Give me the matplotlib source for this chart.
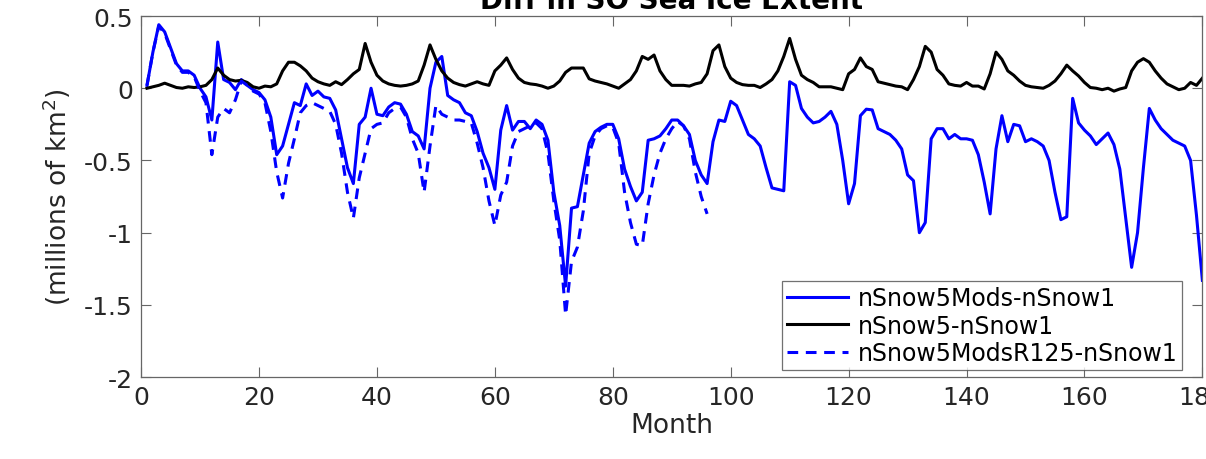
import numpy as np
import matplotlib
matplotlib.use("Agg")
import matplotlib.pyplot as plt
from matplotlib.ticker import FormatStrFormatter

# ---- data (million km^2 differences, by month) ----
months = np.arange(1, 181)
months_r125 = np.arange(1, 97)

mods_minus_1 = [
    0.02, 0.25, 0.44, 0.39, 0.28, 0.17, 0.12, 0.12, 0.09, 0.0,
    -0.06, -0.22, 0.32, 0.06, 0.04, -0.01, 0.06, 0.02, -0.01, -0.03,
    -0.08, -0.2, -0.46, -0.40, -0.25, -0.10, -0.12, 0.03, -0.05, -0.02,
    -0.06, -0.07, -0.15, -0.35, -0.55, -0.66, -0.25, -0.2, 0.0, -0.18,
    -0.19, -0.13, -0.1, -0.11, -0.18, -0.3, -0.33, -0.42, 0.0, 0.18,
    0.22, -0.05, -0.08, -0.1, -0.17, -0.19, -0.3, -0.45, -0.55, -0.7,
    -0.29, -0.12, -0.29, -0.23, -0.23, -0.28, -0.22, -0.25, -0.36, -0.72,
    -0.95, -1.37, -0.83, -0.82, -0.6, -0.38, -0.3, -0.27, -0.25, -0.25,
    -0.35, -0.56, -0.68, -0.78, -0.72, -0.36, -0.35, -0.33, -0.28, -0.22,
    -0.22, -0.26, -0.32, -0.5, -0.6, -0.66, -0.37, -0.22, -0.23, -0.09,
    -0.12, -0.22, -0.32, -0.35, -0.4, -0.55, -0.69, -0.7, -0.71, 0.045,
    0.02, -0.14, -0.2, -0.24, -0.23, -0.2, -0.16, -0.25, -0.5, -0.8,
    -0.66, -0.19, -0.145, -0.15, -0.28, -0.3, -0.32, -0.36, -0.42, -0.6,
    -0.64, -1.0, -0.93, -0.35, -0.28, -0.28, -0.35, -0.32, -0.35, -0.35,
    -0.36, -0.46, -0.65, -0.87, -0.42, -0.19, -0.37, -0.25, -0.26, -0.37,
    -0.35, -0.37, -0.4, -0.5, -0.72, -0.91, -0.89, -0.07, -0.24, -0.29,
    -0.33, -0.39, -0.35, -0.31, -0.39, -0.56, -0.9, -1.24, -1.0, -0.55,
    -0.14, -0.22, -0.28, -0.32, -0.36, -0.38, -0.4, -0.5, -0.88, -1.33,
]

snow5_minus_1 = [
    0.0, 0.01, 0.02, 0.035, 0.02, 0.005, 0.0, 0.01, 0.005, 0.01,
    0.02, 0.06, 0.14, 0.09, 0.06, 0.05, 0.055, 0.04, 0.01, 0.0,
    0.015, 0.01, 0.03, 0.12, 0.18, 0.18, 0.155, 0.12, 0.07, 0.045,
    0.03, 0.02, 0.045, 0.025, 0.06, 0.1, 0.13, 0.31, 0.18, 0.09,
    0.05, 0.03, 0.02, 0.015, 0.02, 0.03, 0.05, 0.16, 0.30, 0.20,
    0.12, 0.07, 0.04, 0.025, 0.015, 0.03, 0.045, 0.03, 0.02, 0.12,
    0.16, 0.21, 0.13, 0.07, 0.04, 0.03, 0.025, 0.015, 0.0, 0.015,
    0.05, 0.11, 0.14, 0.14, 0.14, 0.065, 0.05, 0.04, 0.03, 0.015,
    0.0, 0.03, 0.06, 0.12, 0.22, 0.20, 0.23, 0.12, 0.06, 0.02,
    0.02, 0.02, 0.015, 0.03, 0.04, 0.1, 0.26, 0.30, 0.15, 0.07,
    0.04, 0.025, 0.02, 0.02, 0.005, 0.03, 0.06, 0.12, 0.22, 0.345,
    0.20, 0.09, 0.06, 0.04, 0.01, 0.01, 0.01, 0.0, -0.01, 0.10,
    0.13, 0.21, 0.15, 0.13, 0.045, 0.035, 0.025, 0.015, 0.01, -0.01,
    0.06, 0.15, 0.29, 0.25, 0.13, 0.09, 0.03, 0.02, 0.015, 0.04,
    0.015, 0.015, -0.005, 0.1, 0.25, 0.20, 0.12, 0.09, 0.05, 0.02,
    0.01, 0.005, 0.0, 0.02, 0.05, 0.1, 0.16, 0.12, 0.085, 0.04,
    0.005, 0.0, -0.01, 0.0, -0.02, -0.005, 0.005, 0.12, 0.18, 0.205,
    0.18, 0.12, 0.07, 0.03, 0.01, -0.01, 0.0, 0.04, 0.02, 0.07,
]

modsr125_minus_1 = [
    0.02, 0.25, 0.43, 0.38, 0.27, 0.16, 0.11, 0.11, 0.08, -0.02,
    -0.1, -0.46, -0.2, -0.14, -0.17, -0.08, 0.05, 0.02, -0.02, -0.04,
    -0.1, -0.3, -0.58, -0.76, -0.52, -0.35, -0.17, -0.12, -0.1, -0.12,
    -0.14, -0.16, -0.25, -0.45, -0.72, -0.9, -0.62, -0.45, -0.28, -0.25,
    -0.24, -0.17, -0.14, -0.13, -0.2, -0.35, -0.45, -0.72, -0.4, -0.12,
    -0.18, -0.2, -0.22, -0.22, -0.23, -0.24, -0.38, -0.55, -0.78, -0.95,
    -0.74, -0.65, -0.4, -0.3, -0.28, -0.26, -0.24, -0.28, -0.45, -0.78,
    -1.05, -1.57, -1.2, -1.1, -0.85, -0.45, -0.33, -0.28, -0.26, -0.27,
    -0.38, -0.72, -0.93, -1.08, -1.09, -0.8, -0.6, -0.45, -0.35, -0.28,
    -0.23, -0.26, -0.35, -0.58, -0.75, -0.87,
]

xticks = np.arange(0, 181, 20)
yticks = [-2, -1.5, -1, -0.5, 0, 0.5]

plt.rcParams["font.family"] = ["DejaVu Sans"]
plt.rcParams["axes.unicode_minus"] = False

fig = plt.figure(figsize=(12.06, 4.6), dpi=100)
ax = fig.add_axes([0.117, 0.178, 0.880, 0.785])

ax.plot(months, mods_minus_1, color=(0, 0, 1), lw=2.2, label="nSnow5Mods-nSnow1")
ax.plot(months, snow5_minus_1, color="black", lw=2.2, label="nSnow5-nSnow1")
ax.plot(months_r125, modsr125_minus_1, color=(0, 0, 1), lw=2.2, ls=(0, (3.5, 2.5)),
        label="nSnow5ModsR125-nSnow1")

ax.set_xlim(0, 180)
ax.set_ylim(-2, 0.5)
ax.set_xticks(xticks)
ax.set_yticks(yticks)
ax.yaxis.set_major_formatter(FormatStrFormatter("%g"))
ax.tick_params(direction="in", length=7, width=0.8, color="0.4", labelsize=18,
               top=True, right=True, labelcolor="0.15", pad=6)
for s in ax.spines.values():
    s.set_color("0.4")
    s.set_linewidth(0.9)

ax.set_xlabel("Month", fontsize=19, color="0.15", labelpad=2)
ax.set_ylabel("(millions of km$^2$)", fontsize=19, color="0.15", labelpad=8)
ax.set_title("Diff in SO Sea Ice Extent", fontsize=20, fontweight="bold", pad=6)

leg = ax.legend(loc="lower right", bbox_to_anchor=(0.981, 0.02), fontsize=17,
                frameon=True, fancybox=False, handlelength=2.6, handletextpad=0.4,
                borderpad=0.2, labelspacing=0.15, borderaxespad=0)
leg.get_frame().set_edgecolor("0.3")
leg.get_frame().set_linewidth(0.9)

fig.savefig("out.png", dpi=100)
